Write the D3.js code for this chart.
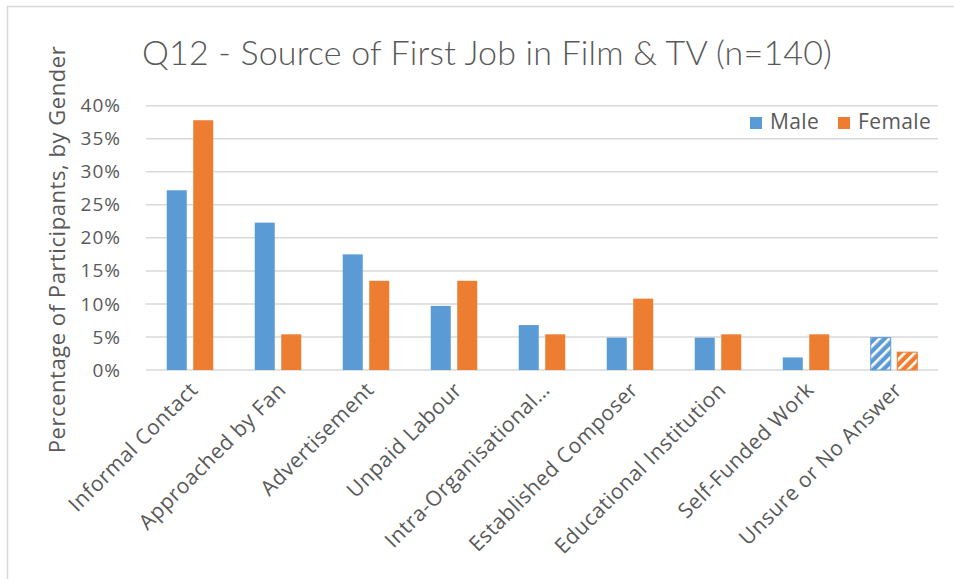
<!DOCTYPE html>
<html>
<head>
<meta charset="utf-8">
<script src="https://cdn.jsdelivr.net/npm/d3@7"></script>
<style>
  html, body { margin: 0; padding: 0; background: #fff; }
  svg { display: block; }
</style>
</head>
<body>
<svg id="chart" width="954" height="579"></svg>
<script>
// Source of first job, percentage of participants by gender
const categories = [
  "Informal Contact", "Approached by Fan", "Advertisement", "Unpaid Labour",
  "Intra-Organisational…", "Established Composer", "Educational Institution",
  "Self-Funded Work", "Unsure or No Answer"
];
const seriesNames = ["Male", "Female"];
const maleValues   = [27.2, 22.3, 17.5, 9.7, 6.8, 4.9, 4.9, 1.9, 4.9];
const femaleValues = [37.8, 5.4, 13.5, 13.5, 5.4, 10.8, 5.4, 5.4, 2.7];
const yTicks = [0, 5, 10, 15, 20, 25, 30, 35, 40];
const hatchedCategory = "Unsure or No Answer";

const colors = { Male: "#5B9BD5", Female: "#ED7D31" };
const textColor = "#595959";
const gridColor = "#D9D9D9";

const svg = d3.select("#chart");
const W = 954, H = 579;
const plot = { left: 146, right: 938, top: 105.7, bottom: 370 };

// chart area frame
svg.append("rect")
  .attr("x", 7.5).attr("y", 6.5)
  .attr("width", W).attr("height", H)
  .attr("fill", "#fff").attr("stroke", "#D9D9D9").attr("stroke-width", 1.5);

// hatch patterns for the "unsure" group
const defs = svg.append("defs");
seriesNames.forEach(s => {
  const p = defs.append("pattern")
    .attr("id", "hatch-" + s)
    .attr("patternUnits", "userSpaceOnUse")
    .attr("width", 7).attr("height", 7)
    .attr("patternTransform", "rotate(45)");
  p.append("rect").attr("width", 7).attr("height", 7).attr("fill", colors[s]);
  p.append("rect").attr("x", 0).attr("width", 2.6).attr("height", 7).attr("fill", "#fff");
});

const x = d3.scaleBand().domain(categories).range([plot.left, plot.right]).paddingInner(0).paddingOuter(0);
const step = x.step();
const xs = d3.scaleBand().domain(seriesNames)
  .range([step / 2 - 23.25, step / 2 + 23.25]).paddingInner(0.245).paddingOuter(0);
const y = d3.scaleLinear().domain([0, 40]).range([plot.bottom, plot.top]);

// gridlines
svg.append("g").selectAll("line").data(yTicks).join("line")
  .attr("x1", plot.left).attr("x2", plot.right)
  .attr("y1", d => y(d)).attr("y2", d => y(d))
  .attr("stroke", gridColor).attr("stroke-width", 1.5);

// y axis labels
const yAxis = svg.append("g")
  .attr("transform", `translate(${plot.left},0)`)
  .call(d3.axisLeft(y).tickValues(yTicks).tickSize(0).tickPadding(25).tickFormat(d => d + "%"));
yAxis.select(".domain").remove();
yAxis.selectAll("text")
  .attr("fill", textColor)
  .style("font-family", "'Open Sans', sans-serif")
  .style("font-size", "19px")
  .style("letter-spacing", "1px");

// bars
const rows = categories.map((c, i) => ({ cat: c, Male: maleValues[i], Female: femaleValues[i] }));
const groups = svg.append("g").selectAll("g").data(rows).join("g")
  .attr("transform", d => `translate(${x(d.cat)},0)`);
groups.selectAll("rect")
  .data(d => seriesNames.map(s => ({ s, v: d[s], cat: d.cat })))
  .join("rect")
  .attr("x", d => xs(d.s))
  .attr("width", xs.bandwidth())
  .attr("y", d => y(d.v))
  .attr("height", d => y(0) - y(d.v))
  .attr("fill", d => d.cat === hatchedCategory ? `url(#hatch-${d.s})` : colors[d.s])
  .attr("stroke", d => d.cat === hatchedCategory ? colors[d.s] : "none")
  .attr("stroke-width", 1);

// x axis labels, rotated
svg.append("g").selectAll("text").data(categories).join("text")
  .attr("transform", d => `translate(${x(d) + step / 2 + 4},${plot.bottom + 16}) rotate(-45)`)
  .attr("text-anchor", "end")
  .attr("dy", "0.35em")
  .attr("fill", textColor)
  .style("font-family", "'Open Sans', sans-serif")
  .style("font-size", "21px")
  .style("letter-spacing", "0.5px")
  .text(d => d);

// title
svg.append("text")
  .attr("x", 142).attr("y", 65)
  .attr("fill", textColor)
  .style("font-family", "'Lato', sans-serif")
  .style("font-weight", "300")
  .style("font-size", "34px")
  .style("letter-spacing", "0.18px")
  .text("Q12 - Source of First Job in Film & TV (n=140)");

// y axis title
svg.append("text")
  .attr("transform", `translate(65,249.5) rotate(-90)`)
  .attr("text-anchor", "middle")
  .attr("fill", textColor)
  .style("font-family", "'Open Sans', sans-serif")
  .style("font-size", "22px")
  .style("letter-spacing", "0.55px")
  .text("Percentage of Participants, by Gender");

// legend
const legendPos = { Male: 750, Female: 838 };
const legend = svg.append("g").selectAll("g").data(seriesNames).join("g")
  .attr("transform", d => `translate(${legendPos[d]},117)`);
legend.append("rect").attr("width", 12).attr("height", 12).attr("fill", d => colors[d]);
legend.append("text")
  .attr("x", 20).attr("y", 12)
  .attr("fill", textColor)
  .style("font-family", "'Open Sans', sans-serif")
  .style("font-size", "21px")
  .style("letter-spacing", "0.4px")
  .text(d => d);
</script>
</body>
</html>
